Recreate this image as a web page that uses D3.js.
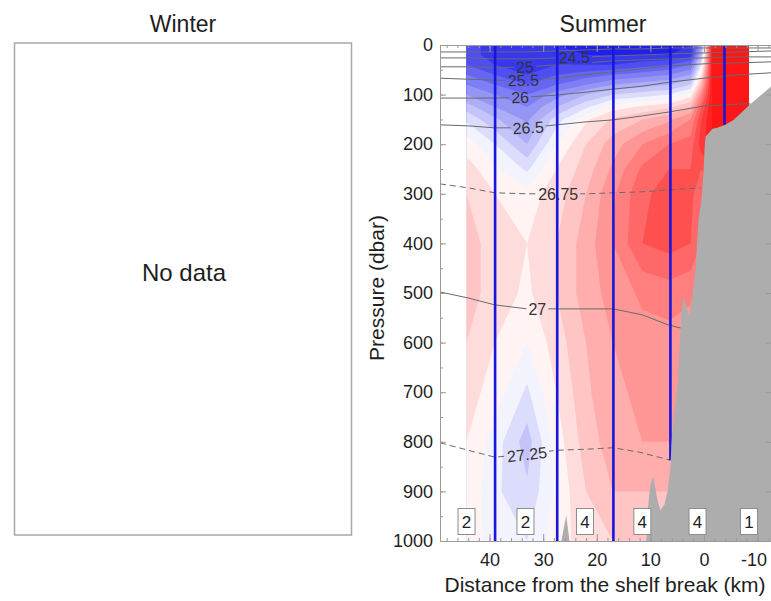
<!DOCTYPE html>
<html>
<head>
<meta charset="utf-8">
<script src="https://cdn.jsdelivr.net/npm/d3@7"></script>
<style>
  body { margin: 0; background: #fff; }
  text { font-family: "Liberation Sans", Arial, Helvetica, sans-serif; fill: #1e1e1e; }
</style>
</head>
<body>
<svg id="chart" width="771" height="601"></svg>
<script>
// ---- Summer section: gridded anomaly (rows = pressure, columns = distance) ----
const gridDistance = [44.3, 39, 33, 27.5, 22, 17, 11.5, 6.5, 2.5, 0.5, -1.5, -8.4];   // km
const gridPressure = [0, 20, 40, 60, 80, 100, 125, 150, 200, 250, 300, 400, 500, 600, 700, 800, 900, 1000]; // dbar
const anomaly = [
  [-0.75, -0.85, -0.90, -0.90, -0.95, -0.95, -0.95, -0.95, -0.90, -0.40, 1.00, 1.00],
  [-0.75, -0.85, -0.90, -0.85, -0.90, -0.90, -0.90, -0.90, -0.85, -0.30, 1.00, 1.00],
  [-0.70, -0.80, -0.85, -0.80, -0.80, -0.80, -0.75, -0.70, -0.60, -0.10, 1.00, 1.00],
  [-0.60, -0.70, -0.80, -0.70, -0.65, -0.60, -0.55, -0.50, -0.40,  0.10, 1.00, 1.00],
  [-0.50, -0.60, -0.70, -0.60, -0.50, -0.40, -0.35, -0.30, -0.20,  0.30, 1.00, 1.00],
  [-0.40, -0.50, -0.60, -0.45, -0.30, -0.20, -0.15, -0.10,  0.05,  0.50, 1.00, 1.00],
  [-0.25, -0.40, -0.50, -0.30, -0.12,  0.05,  0.12,  0.18,  0.30,  0.70, 1.00, 1.00],
  [-0.12, -0.28, -0.42, -0.15,  0.08,  0.22,  0.30,  0.38,  0.50,  0.80, 1.00, 1.00],
  [ 0.05, -0.10, -0.30,  0.00,  0.20,  0.35,  0.50,  0.60,  0.65,  0.85, 1.00, 1.00],
  [ 0.15,  0.02, -0.12,  0.10,  0.25,  0.42,  0.62,  0.70,  0.70,  0.70, 0.80, 0.80],
  [ 0.20,  0.10,  0.05,  0.15,  0.30,  0.48,  0.68,  0.74,  0.72,  0.65, 0.60, 0.60],
  [ 0.25,  0.15,  0.10,  0.20,  0.35,  0.50,  0.70,  0.74,  0.70,  0.60, 0.60, 0.60],
  [ 0.25,  0.15,  0.08,  0.20,  0.35,  0.44,  0.52,  0.55,  0.52,  0.50, 0.50, 0.50],
  [ 0.20,  0.10,  0.00,  0.15,  0.30,  0.40,  0.46,  0.46,  0.44,  0.40, 0.40, 0.40],
  [ 0.15,  0.05, -0.12,  0.10,  0.28,  0.38,  0.42,  0.42,  0.40,  0.40, 0.40, 0.40],
  [ 0.10, -0.05, -0.25,  0.05,  0.25,  0.35,  0.40,  0.40,  0.40,  0.40, 0.40, 0.40],
  [ 0.08, -0.08, -0.18,  0.02,  0.20,  0.30,  0.30,  0.30,  0.30,  0.30, 0.30, 0.30],
  [ 0.05, -0.04, -0.10,  0.05,  0.15,  0.20,  0.20,  0.20,  0.20,  0.20, 0.20, 0.20]
];
const fillLevels = d3.range(-10, 11).map(k => k / 10);

// ---- Isopycnals (sigma-theta), pressure at each distance ----
const isoDist = [49.25, 44, 39, 33, 27.5, 22, 17, 11.5, 6.5, 0, -6.5, -12.6];
const sig240 = [14, 14, 14, 14, 12, 10, 8, 8, 6, 6, 6, 6];
const sig245 = [26, 26, 28, 28, 26, 24, 22, 20, 18, 16, 14, 12];
const sig250 = [44, 44, 46, 44, 40, 36, 32, 30, 28, 26, 24, 24];
const sig255 = [67, 69, 71, 71, 67, 60, 54, 48, 42, 38, 36, 34];
const sig260 = [107, 107, 107, 105, 101, 95, 89, 83, 75, 67, 60, 56];
const sig265Dist = [49.25, 44, 39, 33, 27.5, 22, 17, 11.5, 6.5, 0, -6.5, -8.7];
const sig265 = [161, 163, 167, 167, 161, 155, 151, 143, 135, 123, 119, 119];
const sig2675Dist = [49.25, 44, 39, 33, 27.5, 22, 17, 11.5, 6.5, 0.6];
const sig2675 = [280, 288, 298, 300, 300, 300, 298, 296, 292, 288];
const sig270Dist = [49.25, 44, 39, 33, 27.5, 22, 17, 11.5, 6.5, 4.2];
const sig270 = [498, 510, 524, 532, 532, 532, 532, 544, 565, 571];
const sig2725Dist = [49.25, 44, 39, 33, 27.5, 22, 17, 12, 6.3];
const sig2725 = [802, 817, 831, 825, 817, 815, 812, 821, 837];

const isopycnals = [
  { name: "24",    d: isoDist,     p: sig240,  dashed: false, labelAt: null },
  { name: "24.5",  d: isoDist,     p: sig245,  dashed: false, labelAt: 24.2 },
  { name: "25",    d: isoDist,     p: sig250,  dashed: false, labelAt: 33.4 },
  { name: "25.5",  d: isoDist,     p: sig255,  dashed: false, labelAt: 33.7 },
  { name: "26",    d: isoDist,     p: sig260,  dashed: false, labelAt: 34.3 },
  { name: "26.5",  d: sig265Dist,  p: sig265,  dashed: false, labelAt: 32.8 },
  { name: "26.75", d: sig2675Dist, p: sig2675, dashed: true,  labelAt: 27.2 },
  { name: "27",    d: sig270Dist,  p: sig270,  dashed: false, labelAt: 31.1 },
  { name: "27.25", d: sig2725Dist, p: sig2725, dashed: true,  labelAt: 33.0 }
];

// ---- Stations and cast counts ----
const stationDist = [38.97, 27.38, 16.9, 6.26, -3.83];
const stationBottom = [1000, 1000, 1000, 837, 161];
const binDist = [44.3, 33.3, 22.2, 11.5, 1.2, -8.4];
const binCasts = ["2", "2", "4", "4", "4", "1"];

// ---- Bottom topography (distance km, pressure dbar) ----
const slopeOutline = [
  [10.75, 1000], [10.37, 923], [10.0, 887], [9.44, 871], [8.69, 917], [8.13, 938],
  [7.38, 927], [6.82, 901], [6.26, 853], [6.07, 806], [5.7, 756], [4.95, 690],
  [4.39, 575], [4.21, 544], [3.83, 506], [2.71, 548], [2.15, 504], [1.59, 454],
  [1.03, 353], [0.47, 312], [0.09, 262], [-0.09, 212], [-0.28, 185], [-1.59, 169],
  [-2.5, 167], [-4.0, 161], [-5.5, 151], [-8.7, 119], [-12.6, 83], [-16.2, 50],
  [-16.2, 1000]
];
const knoll = [[26.6, 1000], [25.7, 948], [25.1, 1000]];

// ---- Axis ticks ----
const pressureTicks = d3.range(0, 1001, 100);
const distanceTicks = [40, 30, 20, 10, 0, -10];

// ================= drawing =================
const svg = d3.select("#chart");
svg.append("rect").attr("width", 771).attr("height", 601).attr("fill", "#fff");

// Winter panel (empty)
svg.append("rect")
  .attr("x", 14.5).attr("y", 43).attr("width", 337).attr("height", 492)
  .attr("fill", "none").attr("stroke", "#a8a8a8").attr("stroke-width", 1.5);
svg.append("text").attr("x", 183).attr("y", 32).attr("text-anchor", "middle")
  .attr("font-size", 23).text("Winter");
svg.append("text").attr("x", 184).attr("y", 281).attr("text-anchor", "middle")
  .attr("font-size", 24).text("No data");

// Summer panel
const L = 440, R = 771.5, T = 45, B = 541;
const x = d3.scaleLinear().domain([49.25, -12.6]).range([L, R]);
const y = d3.scaleLinear().domain([0, 1000]).range([T, B]);

svg.append("text").attr("x", 603).attr("y", 32).attr("text-anchor", "middle")
  .attr("font-size", 23).text("Summer");

const defs = svg.append("defs");
defs.append("clipPath").attr("id", "plotClip")
  .append("rect").attr("x", L).attr("y", T).attr("width", R - L).attr("height", B - T);

const plot = svg.append("g").attr("clip-path", "url(#plotClip)");

// filled anomaly contours
const nCol = gridDistance.length, nRow = gridPressure.length;
const bands = d3.contours().size([nCol, nRow]).thresholds(fillLevels)(anomaly.flat());
const gx = d3.scaleLinear().domain(d3.range(nCol).map(i => i + 0.5)).range(gridDistance).clamp(true);
const gy = d3.scaleLinear().domain(d3.range(nRow).map(j => j + 0.5)).range(gridPressure).clamp(true);
const gridToScreen = d3.geoTransform({
  point(px, py) { this.stream.point(x(gx(px)), y(gy(py))); }
});
const bandPath = d3.geoPath(gridToScreen);
const blue = d3.interpolateRgb("#ffffff", "#1414ec");
const red = d3.interpolateRgb("#ffffff", "#ff1616");
function bandColor(t) {
  const v = Math.max(-1, Math.min(1, t + 0.05));
  return v < 0 ? blue(-v) : red(v);
}
plot.append("g").selectAll("path").data(bands).join("path")
  .attr("d", bandPath)
  .attr("fill", d => bandColor(d.value));

// isopycnal labels; a mask breaks the lines around each label
const isoLabelInfo = isopycnals.filter(s => s.labelAt !== null).map(s => {
  const pAt = d3.scaleLinear().domain(s.d).range(s.p);
  const xa = x(s.labelAt), ya = y(pAt(s.labelAt));
  const dx = x(s.labelAt - 1.5) - x(s.labelAt + 1.5);
  const dy = y(pAt(s.labelAt - 1.5)) - y(pAt(s.labelAt + 1.5));
  const ang = Math.atan2(dy, dx) * 180 / Math.PI;
  return { name: s.name, xa, ya, ang };
});

const mask = defs.append("mask").attr("id", "isoMask")
  .attr("maskUnits", "userSpaceOnUse").attr("x", 0).attr("y", 0)
  .attr("width", 771).attr("height", 601);
mask.append("rect").attr("width", 771).attr("height", 601).attr("fill", "#fff");

const lineGen = d3.line();
plot.append("g").attr("mask", "url(#isoMask)")
  .selectAll("path").data(isopycnals).join("path")
  .attr("d", s => lineGen(s.d.map((d, i) => [x(d), y(s.p[i])])))
  .attr("fill", "none")
  .attr("stroke", "#6a6a6a")
  .attr("stroke-width", 1)
  .attr("stroke-dasharray", s => s.dashed ? "6,4" : null);

const labels = plot.append("g").selectAll("g").data(isoLabelInfo).join("g")
  .attr("transform", d => `translate(${d.xa},${d.ya}) rotate(${d.ang})`);
labels.append("text")
  .attr("text-anchor", "middle").attr("dy", "0.36em")
  .attr("font-size", 16).style("fill", "#333")
  .text(d => d.name);
labels.each(function (d) {
  const bb = d3.select(this).select("text").node().getBBox();
  mask.append("rect")
    .attr("transform", `translate(${d.xa},${d.ya}) rotate(${d.ang})`)
    .attr("x", bb.x - 2).attr("y", bb.y + 2)
    .attr("width", bb.width + 4).attr("height", bb.height - 4)
    .attr("fill", "#000");
});

// station casts
plot.append("g").selectAll("line").data(stationDist).join("line")
  .attr("x1", d => x(d)).attr("x2", d => x(d))
  .attr("y1", y(0)).attr("y2", (d, i) => y(stationBottom[i]))
  .attr("stroke", "#1616dc").attr("stroke-width", 2.6);

// bottom topography
const topo = d3.line().x(d => x(d[0])).y(d => y(d[1]));
plot.append("path").attr("d", topo(slopeOutline) + "Z").attr("fill", "#adadad");
plot.append("path").attr("d", topo(knoll) + "Z").attr("fill", "#adadad");

// cast counts per bin
const boxes = plot.append("g").selectAll("g").data(binDist).join("g")
  .attr("transform", d => `translate(${x(d)},0)`);
boxes.append("rect")
  .attr("x", -8.5).attr("y", 508.5).attr("width", 17).attr("height", 26)
  .attr("fill", "#fff").attr("stroke", "#8c8c8c").attr("stroke-width", 1);
boxes.append("text")
  .attr("y", 522).attr("dy", "0.36em").attr("text-anchor", "middle")
  .attr("font-size", 17).text((d, i) => binCasts[i]);

// axes (ticks pointing inward)
function styleAxis(g) {
  g.select(".domain").attr("stroke", "#9a9a9a");
  g.selectAll(".tick line").attr("stroke", "#9a9a9a");
  g.selectAll("text").attr("font-size", 18).attr("fill", "#1e1e1e")
    .attr("font-family", '"Liberation Sans", Arial, sans-serif');
}
const plainNumber = d => String(d);
const minorP = d3.range(0, 1001, 50);
const minorD = d3.range(48, -13, -2);

svg.append("g").attr("transform", `translate(${L},0)`)
  .call(d3.axisLeft(y).tickValues(minorP).tickSizeInner(-3).tickSizeOuter(0).tickFormat(""))
  .call(styleAxis);
svg.append("g").attr("transform", `translate(${L},0)`)
  .call(d3.axisLeft(y).tickValues(pressureTicks).tickSizeInner(-6).tickSizeOuter(0).tickPadding(7).tickFormat(plainNumber))
  .call(styleAxis);
svg.append("g").attr("transform", `translate(${R},0)`)
  .call(d3.axisRight(y).tickValues(pressureTicks).tickSizeInner(-6).tickSizeOuter(0).tickFormat(""))
  .call(styleAxis);

svg.append("g").attr("transform", `translate(0,${B})`)
  .call(d3.axisBottom(x).tickValues(minorD).tickSizeInner(-3).tickSizeOuter(0).tickFormat(""))
  .call(styleAxis);
const xAxisG = svg.append("g").attr("transform", `translate(0,${B})`)
  .call(d3.axisBottom(x).tickValues(distanceTicks).tickSizeInner(-7).tickSizeOuter(0).tickPadding(12).tickFormat(plainNumber))
  .call(styleAxis);
// keep the last label inside the page edge
xAxisG.selectAll(".tick text").filter(d => d < 0).attr("dx", -4);
svg.append("g").attr("transform", `translate(0,${T})`)
  .call(d3.axisTop(x).tickValues(minorD).tickSizeInner(-3).tickSizeOuter(0).tickFormat(""))
  .call(styleAxis);
svg.append("g").attr("transform", `translate(0,${T})`)
  .call(d3.axisTop(x).tickValues(distanceTicks).tickSizeInner(-7).tickSizeOuter(0).tickFormat(""))
  .call(styleAxis);

// axis titles
svg.append("text")
  .attr("transform", "translate(384,288) rotate(-90)")
  .attr("text-anchor", "middle").attr("font-size", 21).text("Pressure (dbar)");
svg.append("text").attr("x", 605).attr("y", 592).attr("text-anchor", "middle")
  .attr("font-size", 21).text("Distance from the shelf break (km)");
</script>
</body>
</html>
